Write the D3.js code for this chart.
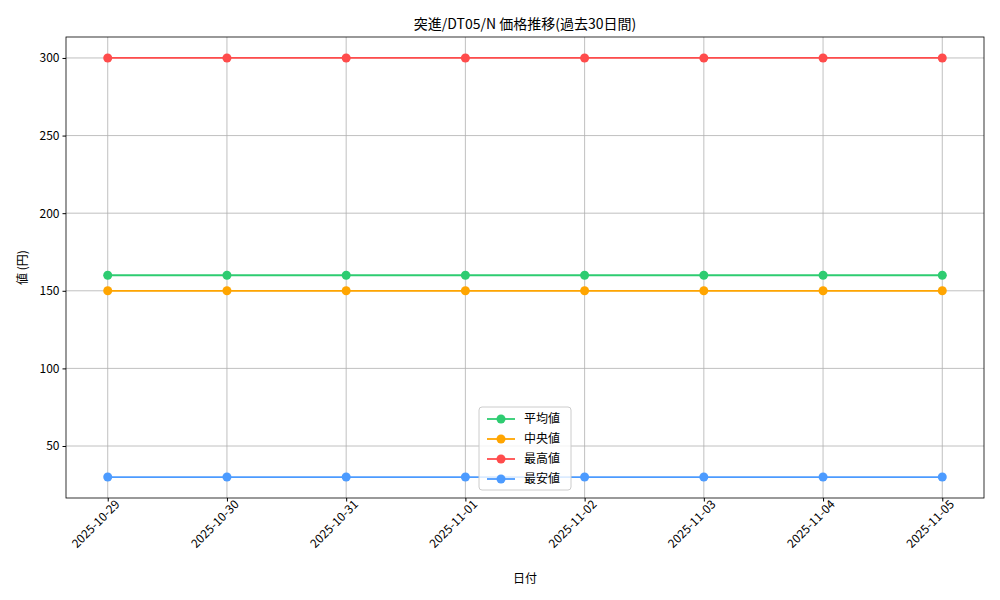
<!DOCTYPE html>
<html><head><meta charset="utf-8">
<script src="https://cdn.jsdelivr.net/npm/d3@7"></script>
<style>body{margin:0;background:#fff}text{font-family:"Noto Sans CJK JP",sans-serif}</style>
</head><body><svg id="c" width="1000" height="600"></svg>
<script>
const dates=["2025-10-29","2025-10-30","2025-10-31","2025-11-01","2025-11-02","2025-11-03","2025-11-04","2025-11-05"];
const avgVals=[160,160,160,160,160,160,160,160];
const medVals=[150,150,150,150,150,150,150,150];
const maxVals=[300,300,300,300,300,300,300,300];
const minVals=[30,30,30,30,30,30,30,30];
const yTicks=[50,100,150,200,250,300];
const series=[
 {name:"平均値",vals:avgVals,color:"#2ecc71"},
 {name:"中央値",vals:medVals,color:"#ffa500"},
 {name:"最高値",vals:maxVals,color:"#ff4c4c"},
 {name:"最安値",vals:minVals,color:"#4c9bff"}];
const L=66,R=984,T=37,B=498;
const svg=d3.select("#c");
const x=d3.scaleLinear().domain([-0.35,dates.length-1+0.35]).range([L,R]);
const y=d3.scaleLinear().domain([16.5,313.5]).range([B,T]);
const g=svg.append("g");
// grid
g.selectAll(".gx").data(dates).join("line").attr("x1",(d,i)=>x(i)).attr("x2",(d,i)=>x(i)).attr("y1",T).attr("y2",B).attr("stroke","#b0b0b0").attr("stroke-width",0.8);
g.selectAll(".gy").data(yTicks).join("line").attr("y1",d=>y(d)).attr("y2",d=>y(d)).attr("x1",L).attr("x2",R).attr("stroke","#b0b0b0").attr("stroke-width",0.8);
// axes
const xa=svg.append("g").attr("transform",`translate(0,${B})`).call(d3.axisBottom(x).tickValues(d3.range(dates.length)).tickFormat(i=>dates[i]).tickSize(3.5));
xa.selectAll("text").attr("font-size",12).attr("fill","#000").attr("text-anchor","end").attr("dx","0.3em").attr("dy","0.6em").attr("transform","rotate(-45)");
xa.select(".domain").remove();
const ya=svg.append("g").attr("transform",`translate(${L},0)`).call(d3.axisLeft(y).tickValues(yTicks).tickSize(3.5));
ya.selectAll("text").attr("font-size",12).attr("fill","#000");
ya.select(".domain").remove();
svg.append("rect").attr("x",L).attr("y",T).attr("width",R-L).attr("height",B-T).attr("fill","none").attr("stroke","#000").attr("stroke-width",0.8);
// series
const line=d3.line().x((d,i)=>x(i)).y(d=>y(d));
series.forEach(s=>{
 svg.append("path").attr("d",line(s.vals)).attr("fill","none").attr("stroke",s.color).attr("stroke-width",1.8);
 svg.selectAll(null).data(s.vals).join("circle").attr("cx",(d,i)=>x(i)).attr("cy",d=>y(d)).attr("r",4.5).attr("fill",s.color);
});
// texts
svg.append("text").attr("x",(L+R)/2).attr("y",29).attr("text-anchor","middle").attr("font-size",14).text("突進/DT05/N 価格推移(過去30日間)");
svg.append("text").attr("x",(L+R)/2).attr("y",583).attr("text-anchor","middle").attr("font-size",12).text("日付");
svg.append("text").attr("transform",`translate(27,${(T+B)/2}) rotate(-90)`).attr("text-anchor","middle").attr("font-size",12).text("値 (円)");
// legend
const lg=svg.append("g").attr("transform","translate(479,407)");
lg.append("rect").attr("width",92).attr("height",83).attr("rx",3).attr("fill","#fff").attr("fill-opacity",0.8).attr("stroke","#ccc");
series.forEach((s,i)=>{
 const yy=12+i*20;
 lg.append("line").attr("x1",8).attr("x2",36).attr("y1",yy).attr("y2",yy).attr("stroke",s.color).attr("stroke-width",1.8);
 lg.append("circle").attr("cx",22).attr("cy",yy).attr("r",4.5).attr("fill",s.color);
 lg.append("text").attr("x",45).attr("y",yy+4).attr("font-size",12).text(s.name);
});
</script></body></html>
